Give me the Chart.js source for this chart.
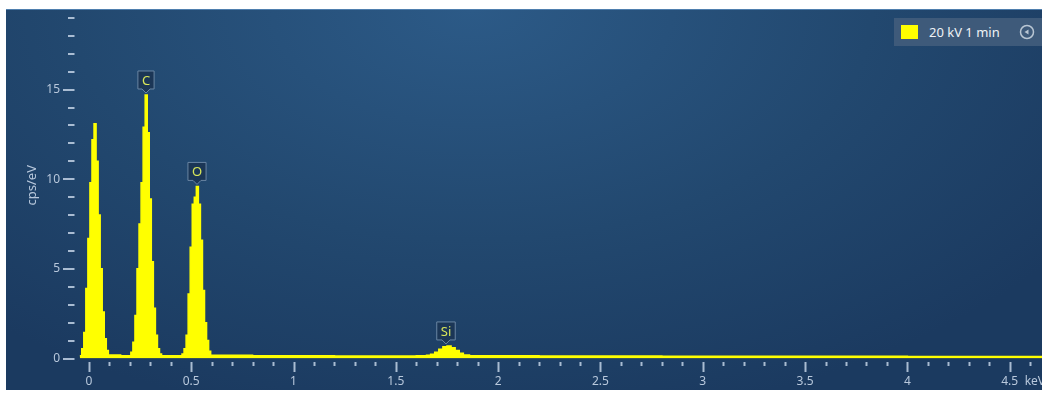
<!DOCTYPE html>
<html>
<head>
<meta charset="utf-8">
<script src="https://cdn.jsdelivr.net/npm/chart.js@4.4.1/dist/chart.umd.min.js"></script>
<style>
  body { margin: 0; background: #fff; }
  #wrap { position: relative; width: 1042px; height: 393px; overflow: hidden; background: #fff; }
  #panel {
    position: absolute; left: 6px; top: 9px; width: 1036px; height: 380px;
    border-top: 1px solid #4f7fae;
    background: radial-gradient(ellipse 70% 110% at 45% 0%, #2c5a87 0%, #22486f 55%, #1b3a60 100%);
  }
  #spec { position: absolute; left: 0; top: 0; }
  #legend {
    position: absolute; left: 894px; top: 18px; width: 148px; height: 28px;
    background: #3e5a7a; font: 13px "Noto Sans", sans-serif; color: #eef2f6;
  }
  #legend .sw { position: absolute; left: 7px; top: 7px; width: 17px; height: 14px; background: #ffff00; }
  #legend .txt { position: absolute; left: 35px; top: 5px; white-space: nowrap; }
  #legend svg { position: absolute; left: 125px; top: 6px; }
</style>
</head>
<body>
<div id="wrap">
  <div id="panel"></div>
  <canvas id="spec" width="1042" height="393"></canvas>
  <div id="legend">
    <span class="sw"></span><span class="txt">20 kV 1 min</span>
    <svg width="16" height="16" viewBox="0 0 16 16">
      <circle cx="8" cy="8" r="6.5" fill="none" stroke="#b9c6d3" stroke-width="1.5"/>
      <path d="M5.5 8 L9.5 5.5 L9.5 10.5 Z" fill="#b9c6d3"/>
    </svg>
  </div>
</div>
<script>
// spectrum: bin start energy (keV) and counts (cps/eV)
let energies = [
  -0.045, -0.035, -0.025, -0.015, -0.005, 0.005, 0.015, 0.025, 0.035, 0.045,
  0.055, 0.065, 0.075, 0.085, 0.095, 0.155,
  0.205, 0.215, 0.225, 0.235, 0.245, 0.255, 0.265, 0.275, 0.285, 0.295,
  0.305, 0.315, 0.325, 0.335, 0.345, 0.355, 0.405,
  0.455, 0.465, 0.475, 0.485, 0.495, 0.505, 0.515, 0.525, 0.535, 0.545,
  0.555, 0.565, 0.575, 0.585, 0.595, 0.8, 1.2,
  1.6, 1.65, 1.67, 1.69, 1.71, 1.73, 1.75, 1.77, 1.79, 1.81, 1.83, 1.86,
  2.2, 2.8, 3.4, 4.0, 4.66,
];
let counts = [
  0.15, 0.55, 1.45, 3.9, 6.7, 9.8, 12.2, 13.1, 11.0, 8.0,
  5.0, 2.6, 1.1, 0.45, 0.2, 0.15,
  0.35, 0.9, 2.4, 5.0, 7.5, 9.8, 12.9, 14.7, 12.6, 8.9,
  5.4, 2.8, 1.3, 0.55, 0.25, 0.16, 0.15,
  0.25, 0.55, 1.3, 3.6, 6.2, 8.6, 9.0, 9.6, 8.6, 6.6,
  3.8, 2.0, 1.0, 0.4, 0.18, 0.15, 0.14,
  0.15, 0.18, 0.24, 0.35, 0.52, 0.66, 0.7, 0.6, 0.44, 0.29, 0.19, 0.15,
  0.14, 0.13, 0.12, 0.11, 0.1,
];

// element markers
let peakNames = ["C", "O", "Si"];
let peakEnergies = [0.28, 0.53, 1.744];
let peakHeights = [14.7, 9.6, 0.7];

let axisColor = "#b8c8dc";
let tickColor = "rgba(185, 202, 222, 0.9)";

function isMajor(v, step) {
  return Math.abs(v / step - Math.round(v / step)) < 1e-6;
}

// short/long tick marks, element labels, keV unit
let decorPlugin = {
  id: "decor",
  afterDraw(chart) {
    let ctx = chart.ctx;
    let xs = chart.scales.x;
    let ys = chart.scales.y;
    let area = chart.chartArea;
    ctx.save();
    ctx.strokeStyle = tickColor;
    ctx.lineWidth = 2;
    xs.ticks.forEach((t) => {
      let px = Math.round(xs.getPixelForValue(t.value)) + 0.5;
      let len = isMajor(t.value, 0.5) ? 10 : 4;
      ctx.beginPath();
      ctx.moveTo(px, area.bottom + 3.5);
      ctx.lineTo(px, area.bottom + 3.5 + len);
      ctx.stroke();
    });
    ys.ticks.forEach((t) => {
      let py = Math.round(ys.getPixelForValue(t.value));
      let major = isMajor(t.value, 5);
      ctx.beginPath();
      ctx.moveTo(area.left - (major ? 16.5 : 11.5), py);
      ctx.lineTo(area.left - 5, py);
      ctx.stroke();
    });

    // unit after last label
    ctx.fillStyle = axisColor;
    ctx.font = '12px "Noto Sans", sans-serif';
    ctx.textAlign = "left";
    ctx.textBaseline = "middle";
    ctx.fillText("keV", xs.getPixelForValue(4.5) + 15, area.bottom + 23);

    // element markers
    peakNames.forEach((name, i) => {
      let cx = Math.round(xs.getPixelForValue(peakEnergies[i]));
      let tip = ys.getPixelForValue(peakHeights[i]) - 2;
      ctx.font = '13px "Noto Sans", sans-serif';
      let w = Math.max(16, ctx.measureText(name).width + 8);
      let h = 18;
      let left = cx - w / 2;
      let bottom = tip - 4;
      ctx.beginPath();
      ctx.moveTo(left, bottom - h);
      ctx.lineTo(left + w, bottom - h);
      ctx.lineTo(left + w, bottom);
      ctx.lineTo(cx + 4, bottom);
      ctx.lineTo(cx, tip);
      ctx.lineTo(cx - 4, bottom);
      ctx.lineTo(left, bottom);
      ctx.closePath();
      ctx.fillStyle = "#1b3656";
      ctx.fill();
      ctx.strokeStyle = "#6a86a3";
      ctx.lineWidth = 1;
      ctx.stroke();
      ctx.fillStyle = "#d8e65a";
      ctx.textAlign = "center";
      ctx.textBaseline = "middle";
      ctx.fillText(name, cx, bottom - h / 2 + 1);
    });
    ctx.restore();
  },
};

let points = energies.map((e, i) => ({ x: e, y: counts[i] }));

new Chart(document.getElementById("spec"), {
  type: "line",
  data: {
    datasets: [
      {
        data: points,
        stepped: true,
        fill: "origin",
        backgroundColor: "#ffff00",
        borderColor: "#ffff00",
        borderWidth: 1.5,
        pointRadius: 0,
      },
    ],
  },
  options: {
    responsive: false,
    animation: false,
    layout: { padding: { top: 12, left: 0, right: 0, bottom: 0 } },
    plugins: {
      legend: { display: false },
      tooltip: { enabled: false },
    },
    scales: {
      x: {
        type: "linear",
        min: -0.046,
        max: 4.658,
        afterFit(scale) {
          scale.height = 34.5;
        },
        grid: {
          drawOnChartArea: false,
          drawTicks: true,
          tickLength: 13,
          tickColor: "transparent",
        },
        border: { display: false },
        ticks: {
          stepSize: 0.1,
          autoSkip: false,
          includeBounds: false,
          maxRotation: 0,
          padding: 3,
          color: axisColor,
          font: { family: "Noto Sans", size: 12 },
          callback: (v) => (isMajor(v, 0.5) ? String(Math.round(v * 10) / 10) : ""),
        },
      },
      y: {
        min: 0,
        max: 19.33,
        afterFit(scale) {
          scale.width = 79.5;
        },
        grid: {
          drawOnChartArea: false,
          drawTicks: true,
          tickLength: 17.5,
          tickColor: "transparent",
        },
        border: { display: false },
        title: {
          display: true,
          text: "cps/eV",
          color: axisColor,
          font: { family: "Noto Sans", size: 13 },
          padding: { top: 24, bottom: 0 },
        },
        ticks: {
          stepSize: 1,
          autoSkip: false,
          includeBounds: false,
          padding: 2,
          color: axisColor,
          font: { family: "Noto Sans", size: 12 },
          callback: (v) => (isMajor(v, 5) ? String(v) : ""),
        },
      },
    },
  },
  plugins: [decorPlugin],
});
</script>
</body>
</html>
